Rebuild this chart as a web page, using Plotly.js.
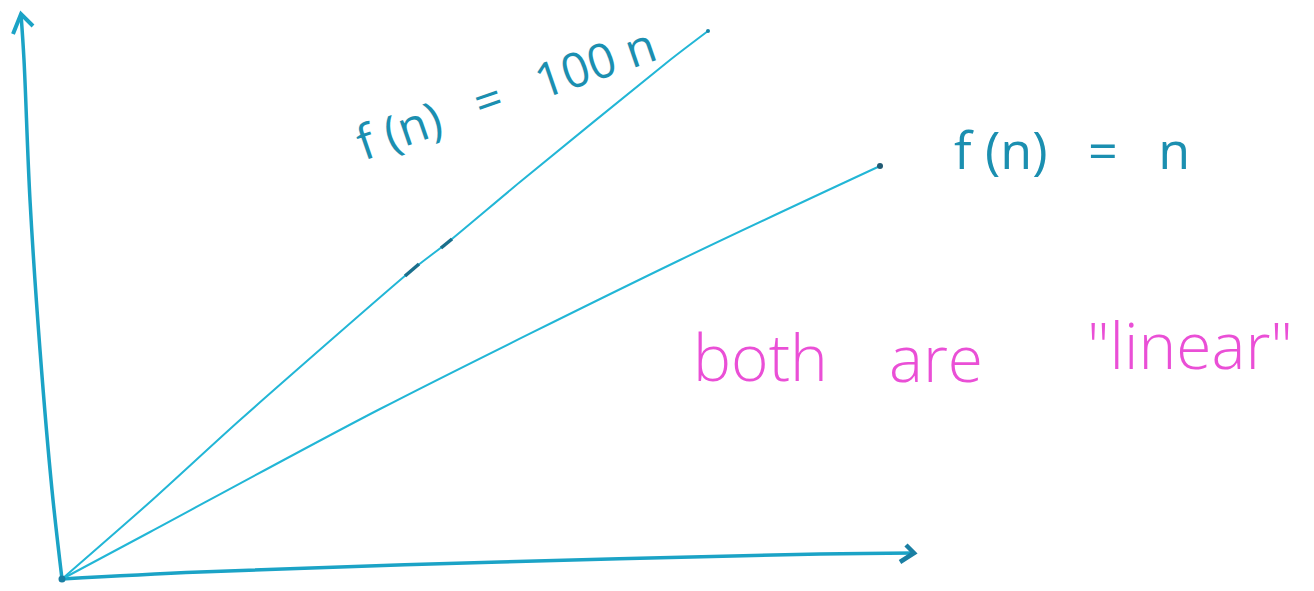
<!DOCTYPE html>
<html>
<head>
<meta charset="utf-8">
<script src="https://cdn.plot.ly/plotly-3.0.1.min.js"></script>
<style>
  html, body { margin: 0; padding: 0; background: #ffffff; }
  #plot { width: 1314px; height: 591px; }
</style>
</head>
<body>
<div id="plot"></div>
<script>
// Sketch of two linear functions, f(n) = n and f(n) = 100n, on hand-drawn axes.
// Coordinates are in a canvas-like space: x to the right, y downward.

// vertical axis stroke (bottom to top) and its arrowhead
const yAxisX = [62, 52, 40, 30, 24, 21];
const yAxisY = [579, 490, 350, 200, 60, 14];
const yArrowX = [13, 21, 33];
const yArrowY = [34, 14, 26];

// horizontal axis stroke and its arrowhead
const xAxisX = [62, 200, 500, 820, 914];
const xAxisY = [579, 572, 562, 554, 553];
const xArrowX = [906, 914, 900];
const xArrowY = [545, 553, 562];

// f(n) = 100n, drawn freehand
const steepX = [62, 150, 240, 412, 447, 520, 670, 708];
const steepY = [579, 502, 420, 270, 243, 182, 60, 31];

// f(n) = n, drawn freehand
const shallowX = [62, 150, 380, 680, 880];
const shallowY = [579, 532, 409, 260, 166];

// heavier ink spots along the steep line
const inkSpotsX = [[405, 419], [441, 452]];
const inkSpotsY = [[276, 264], [248, 239]];

// labels
const labelSteep = "f (n)   =   100 n";
const labelShallow = "f (n)   =   n";
const noteWords = ["both", "are", '"linear"'];
const noteWordX = [760, 936, 1190];
const noteWordY = [356, 357, 344];

const axisColor = '#1ba3c6';
const lineColor = '#22b6d6';
const inkColor = '#1b8fb0';
const noteColor = '#ea4fd6';

const traces = [
  { x: yAxisX, y: yAxisY, mode: 'lines', line: { color: axisColor, width: 3.5, shape: 'spline' } },
  { x: yArrowX, y: yArrowY, mode: 'lines', line: { color: axisColor, width: 4 } },
  { x: xAxisX, y: xAxisY, mode: 'lines', line: { color: axisColor, width: 3.5, shape: 'spline' } },
  { x: xArrowX, y: xArrowY, mode: 'lines', line: { color: '#1a7fa3', width: 4.5 } },
  { x: steepX, y: steepY, mode: 'lines', line: { color: lineColor, width: 2, shape: 'spline', smoothing: 0.6 } },
  { x: shallowX, y: shallowY, mode: 'lines', line: { color: lineColor, width: 2, shape: 'spline', smoothing: 0.8 } },
  { x: [shallowX[shallowX.length - 1]], y: [shallowY[shallowY.length - 1]], mode: 'markers', marker: { color: '#215a73', size: 6 } },
  { x: [steepX[steepX.length - 1]], y: [steepY[steepY.length - 1]], mode: 'markers', marker: { color: '#1b86a8', size: 4 } },
  { x: [steepX[0]], y: [steepY[0]], mode: 'markers', marker: { color: '#1a7fa3', size: 7 } }
];
inkSpotsX.forEach((xs, i) => {
  traces.push({ x: xs, y: inkSpotsY[i], mode: 'lines', line: { color: '#1a6f8c', width: 3.5 } });
});
traces.forEach(t => { t.hoverinfo = 'skip'; });

const annotations = [
  {
    x: 505, y: 92, xref: 'x', yref: 'y', text: labelSteep, showarrow: false,
    textangle: -19, font: { family: 'Open Sans', size: 48, color: inkColor }
  },
  {
    x: 1072, y: 148, xref: 'x', yref: 'y', text: labelShallow, showarrow: false,
    font: { family: 'Open Sans', size: 52, color: inkColor }
  }
];
noteWords.forEach((w, i) => {
  annotations.push({
    x: noteWordX[i], y: noteWordY[i], xref: 'x', yref: 'y', text: w, showarrow: false,
    font: { family: 'Open Sans', size: 64, color: noteColor, weight: 300 }
  });
});

const layout = {
  width: 1314,
  height: 591,
  margin: { l: 0, r: 0, t: 0, b: 0 },
  paper_bgcolor: '#ffffff',
  plot_bgcolor: '#ffffff',
  showlegend: false,
  xaxis: { range: [0, 1314], visible: false, fixedrange: true },
  yaxis: { range: [591, 0], visible: false, fixedrange: true },
  annotations: annotations
};

Plotly.newPlot('plot', traces, layout, { displayModeBar: false, staticPlot: true });
</script>
</body>
</html>
